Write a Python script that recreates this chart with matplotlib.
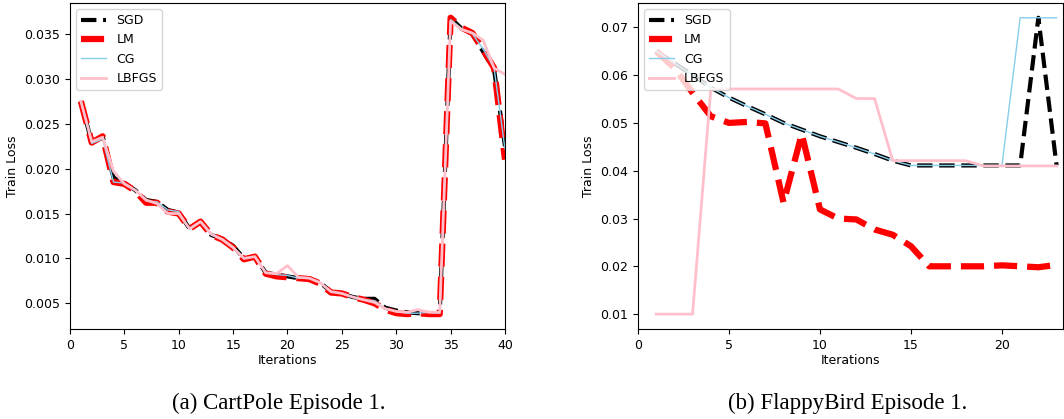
import matplotlib
matplotlib.use("Agg")
import matplotlib.pyplot as plt

plt.rcParams["font.size"] = 9

# CartPole episode 1 (x = 1..40)
cp_iters = list(range(1, 41))
cp_sgd = [0.0275, 0.0229, 0.0236, 0.0190, 0.0184, 0.0176, 0.0165, 0.0163, 0.0154, 0.0151,
          0.0133, 0.0140, 0.0126, 0.0122, 0.0114, 0.0100, 0.0102, 0.0084, 0.0082, 0.0080,
          0.0078, 0.0078, 0.0073, 0.0063, 0.0061, 0.0057, 0.0055, 0.0055, 0.0045, 0.0042,
          0.0040, 0.0039, 0.0039, 0.0039, 0.0368, 0.0356, 0.0350, 0.0330, 0.0310, 0.0225]
cp_lm = [0.0275, 0.0229, 0.0236, 0.0185, 0.0183, 0.0175, 0.0162, 0.0162, 0.0152, 0.0150,
         0.0133, 0.0141, 0.0126, 0.0121, 0.0112, 0.0099, 0.0102, 0.0083, 0.0080, 0.0079,
         0.0078, 0.0077, 0.0072, 0.0062, 0.0061, 0.0057, 0.0054, 0.0050, 0.0043, 0.0039,
         0.0038, 0.0039, 0.0038, 0.0038, 0.0368, 0.0357, 0.0351, 0.0332, 0.0312, 0.0210]
cp_cg = [0.0275, 0.0228, 0.0233, 0.0185, 0.0184, 0.0176, 0.0164, 0.0163, 0.0154, 0.0152,
         0.0132, 0.0141, 0.0126, 0.0122, 0.0113, 0.0100, 0.0102, 0.0084, 0.0082, 0.0081,
         0.0078, 0.0078, 0.0073, 0.0063, 0.0061, 0.0057, 0.0054, 0.0053, 0.0044, 0.0041,
         0.0039, 0.0039, 0.0040, 0.0039, 0.0366, 0.0356, 0.0350, 0.0333, 0.0312, 0.0222]
cp_lbfgs = [0.0275, 0.0230, 0.0235, 0.0197, 0.0183, 0.0176, 0.0165, 0.0161, 0.0150, 0.0150,
            0.0133, 0.0141, 0.0127, 0.0121, 0.0112, 0.0100, 0.0102, 0.0084, 0.0083, 0.0092,
            0.0079, 0.0078, 0.0073, 0.0063, 0.0061, 0.0057, 0.0054, 0.0051, 0.0044, 0.0041,
            0.0040, 0.0043, 0.0040, 0.0040, 0.0364, 0.0355, 0.0351, 0.0343, 0.0312, 0.0305]

# FlappyBird episode 1 (x = 1..23)
fb_iters = list(range(1, 24))
fb_sgd = [0.0650, 0.0625, 0.0600, 0.0574, 0.0553, 0.0535, 0.0518, 0.0500, 0.0486, 0.0472,
          0.0460, 0.0448, 0.0435, 0.0421, 0.0411, 0.0411, 0.0411, 0.0411, 0.0411, 0.0411,
          0.0411, 0.0720, 0.0411]
fb_lm = [0.0650, 0.0615, 0.0563, 0.0514, 0.0500, 0.0502, 0.0499, 0.0333, 0.0477, 0.0319,
         0.0300, 0.0298, 0.0277, 0.0266, 0.0242, 0.0200, 0.0200, 0.0200, 0.0200, 0.0202,
         0.0200, 0.0198, 0.0203]
fb_cg = [0.0650, 0.0625, 0.0600, 0.0574, 0.0553, 0.0535, 0.0518, 0.0500, 0.0486, 0.0472,
         0.0460, 0.0448, 0.0435, 0.0421, 0.0411, 0.0411, 0.0411, 0.0411, 0.0411, 0.0411,
         0.0720, 0.0720, 0.0720]
fb_lbfgs = [0.0100, 0.0100, 0.0100, 0.0571, 0.0571, 0.0571, 0.0571, 0.0571, 0.0571, 0.0571,
            0.0571, 0.0551, 0.0551, 0.0421, 0.0421, 0.0421, 0.0421, 0.0421, 0.0410, 0.0410,
            0.0410, 0.0410, 0.0410]

labels = ["SGD", "LM", "CG", "LBFGS"]
captions = ["(a) CartPole Episode 1.", "(b) FlappyBird Episode 1."]


def draw(ax, x, series):
    sgd, lm, cg, lbfgs = series
    ax.plot(x, sgd, color="black", linestyle="--", linewidth=3, label=labels[0])
    ax.plot(x, lm, color="red", linestyle="--", linewidth=4.5, label=labels[1])
    ax.plot(x, cg, color="skyblue", linewidth=1, label=labels[2])
    ax.plot(x, lbfgs, color="pink", linewidth=2, label=labels[3])
    ax.set_xlabel("Iterations", labelpad=2)
    ax.set_ylabel("Train Loss")
    ax.legend(loc="upper left")


fig = plt.figure(figsize=(10.64, 4.19), dpi=100)

ax1 = fig.add_axes([0.0658, 0.215, 0.4088, 0.778])
draw(ax1, cp_iters, [cp_sgd, cp_lm, cp_cg, cp_lbfgs])
ax1.set_xlim(0, 40)

ax2 = fig.add_axes([0.5996, 0.215, 0.3994, 0.778])
draw(ax2, fb_iters, [fb_sgd, fb_lm, fb_cg, fb_lbfgs])
ax2.set_xlim(0, 23.35)

fig.text(0.262, 0.038, captions[0], ha="center", va="center",
         fontsize=16.5, family="Liberation Serif")
fig.text(0.797, 0.038, captions[1], ha="center", va="center",
         fontsize=16.5, family="Liberation Serif")

fig.savefig("out.png", dpi=100)
